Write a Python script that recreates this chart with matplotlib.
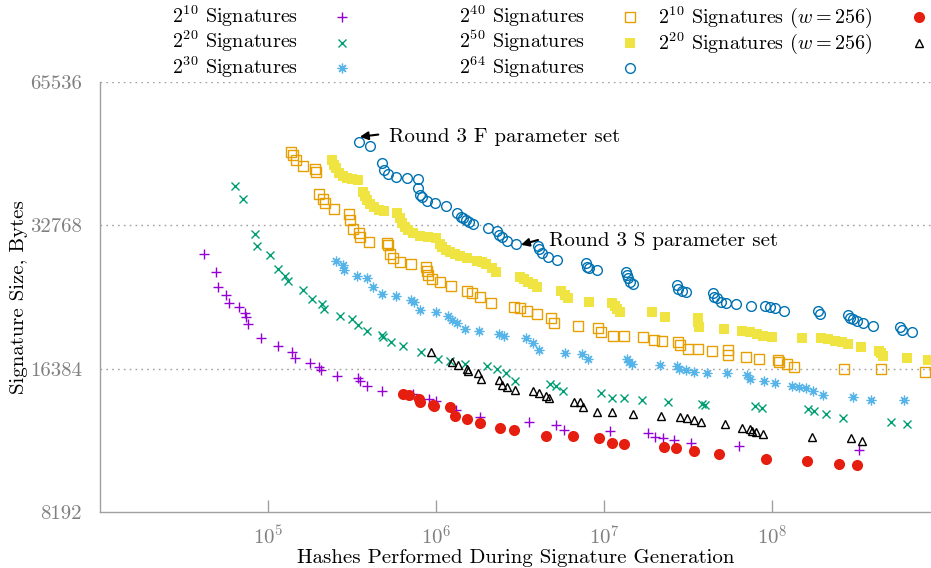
import matplotlib
matplotlib.use('Agg')
import matplotlib.pyplot as plt
from matplotlib.lines import Line2D
from matplotlib.ticker import FixedLocator, FixedFormatter, NullLocator

plt.rcParams['font.family'] = 'serif'
plt.rcParams['font.serif'] = ['cmr10']
plt.rcParams['mathtext.fontset'] = 'cm'
plt.rcParams['axes.unicode_minus'] = False
plt.rcParams['axes.formatter.use_mathtext'] = True

# hashes performed / signature size (bytes)
hashes_2_10 = [4.16e4, 4.90e4, 5.04e4, 5.62e4, 5.86e4, 6.72e4, 7.30e4, 7.40e4, 7.60e4, 9.08e4,
               1.15e5, 1.39e5, 1.45e5, 1.78e5, 2.01e5, 2.07e5, 2.57e5, 3.43e5, 3.53e5, 3.88e5,
               4.77e5, 7.30e5, 9.08e5, 1.00e6, 1.32e6, 1.83e6, 3.58e6, 5.18e6, 5.78e6, 1.09e7,
               1.83e7, 2.01e7, 2.24e7, 2.61e7, 3.30e7, 6.36e7, 3.30e8]
bytes_2_10 = [28500, 26150, 24330, 23400, 22510, 22080, 21450, 21040, 20330, 19010,
              18290, 17760, 17250, 16840, 16520, 16280, 15820, 15660, 15440, 15070,
              14710, 14490, 14150, 14010, 13420, 12970, 12660, 12480, 12180, 12120,
              12000, 11770, 11720, 11600, 11440, 11270, 11060]

hashes_2_20 = [6.36e4, 7.10e4, 8.37e4, 8.60e4, 1.03e5, 1.15e5, 1.26e5, 1.32e5, 1.62e5, 1.83e5,
               2.10e5, 2.15e5, 2.68e5, 3.16e5, 3.43e5, 3.88e5, 4.77e5, 4.84e5, 5.40e5, 6.36e5,
               8.14e5, 1.03e6, 1.21e6, 1.49e6, 2.01e6, 2.31e6, 2.61e6, 2.95e6, 4.77e6, 5.18e6,
               5.70e6, 9.60e6, 1.12e7, 1.32e7, 1.68e7, 2.40e7, 3.83e7, 3.99e7, 7.92e7, 8.71e7,
               1.64e8, 1.78e8, 2.10e8, 2.65e8, 5.11e8, 6.36e8]
bytes_2_20 = [39650, 37230, 31430, 29660, 28400, 26540, 25660, 25040, 23970, 22950,
              22400, 21870, 21140, 20830, 20240, 19660, 19290, 19110, 18650, 18290,
              17760, 17170, 17010, 16760, 16600, 16360, 16050, 15440, 15210, 15070,
              14710, 14570, 14220, 14220, 14080, 13950, 13810, 13750, 13680, 13550,
              13480, 13350, 13160, 12910, 12660, 12540]

hashes_2_30 = [2.54e5, 2.79e5, 2.83e5, 3.39e5, 3.88e5, 4.22e5, 4.77e5, 5.78e5, 7.10e5, 7.40e5,
               8.03e5, 1.00e6, 1.18e6, 1.25e6, 1.33e6, 1.49e6, 1.80e6, 2.37e6, 2.54e6, 3.43e6,
               3.78e6, 4.10e6, 5.86e6, 7.40e6, 8.03e6, 1.37e7, 1.41e7, 1.47e7, 2.15e7, 2.72e7,
               2.79e7, 3.08e7, 3.43e7, 4.10e7, 5.40e7, 7.10e7, 7.40e7, 8.96e7, 1.04e8, 1.32e8,
               1.45e8, 1.59e8, 1.75e8, 2.01e8, 3.03e8, 3.88e8, 6.11e8]
bytes_2_30 = [27590, 27060, 26410, 25660, 25410, 24330, 23510, 23290, 22840, 22620,
              21760, 21560, 21140, 20740, 20430, 19850, 19660, 19380, 19190, 19010,
              18550, 17930, 17680, 17590, 17170, 17170, 16930, 16760, 16680, 16600,
              16360, 16280, 16120, 16050, 16050, 15890, 15590, 15440, 15290, 15070,
              15000, 14920, 14710, 14420, 14290, 14080, 14080]

hashes_2_40 = [1.37e5, 1.41e5, 1.47e5, 1.62e5, 1.90e5, 1.93e5, 2.01e5, 2.12e5, 2.18e5, 2.47e5,
               3.03e5, 3.08e5, 3.21e5, 3.48e5, 3.53e5, 4.00e5, 5.11e5, 5.18e5, 5.32e5, 5.55e5,
               6.11e5, 7.10e5, 8.71e5, 8.84e5, 8.96e5, 9.47e5, 1.06e6, 1.23e6, 1.53e6, 1.64e6,
               1.83e6, 2.12e6, 2.91e6, 3.16e6, 3.48e6, 4.00e6, 4.84e6, 5.04e6, 7.00e6, 9.21e6,
               9.60e6, 1.13e7, 1.32e7, 1.71e7, 1.98e7, 2.21e7, 2.76e7, 2.83e7, 3.16e7, 3.63e7,
               4.39e7, 5.47e7, 5.47e7, 7.00e7, 8.37e7, 1.09e8, 1.10e8, 1.23e8, 1.35e8, 2.68e8,
               4.46e8, 8.14e8]
bytes_2_40 = [46730, 46050, 44960, 43680, 43060, 42430, 38150, 37230, 36510, 35460,
              34630, 33630, 32200, 31590, 30980, 30230, 30100, 29800, 28530, 28000,
              27460, 27190, 26800, 26280, 25780, 25290, 24920, 24440, 23850, 23630,
              23170, 22510, 22080, 21970, 21660, 21350, 20940, 20430, 20140, 19960,
              19560, 19190, 19190, 19110, 18820, 18730, 18650, 18370, 18020, 18020,
              17860, 17930, 17510, 17330, 17170, 17090, 16930, 16760, 16520, 16360,
              16360, 16120]

hashes_2_50 = [2.40e5, 2.47e5, 2.54e5, 2.65e5, 2.79e5, 2.95e5, 3.16e5, 3.43e5, 3.68e5, 3.78e5,
               3.88e5, 4.05e5, 4.27e5, 4.58e5, 4.90e5, 5.86e5, 6.11e5, 6.28e5, 6.54e5, 6.81e5,
               7.30e5, 8.03e5, 8.96e5, 1.00e6, 1.06e6, 1.09e6, 1.15e6, 1.21e6, 1.30e6, 1.39e6,
               1.53e6, 1.75e6, 1.88e6, 1.98e6, 2.15e6, 2.28e6, 3.16e6, 3.34e6, 3.53e6, 3.78e6,
               4.00e6, 5.55e6, 5.86e6, 6.11e6, 8.14e6, 1.12e7, 1.16e7, 1.19e7, 1.25e7, 1.93e7,
               2.31e7, 3.63e7, 3.63e7, 3.68e7, 5.18e7, 6.63e7, 7.40e7, 8.14e7, 8.84e7, 1.00e8,
               1.51e8, 1.96e8, 2.15e8, 2.37e8, 2.61e8, 2.83e8, 3.39e8, 4.33e8, 4.46e8, 4.58e8,
               6.36e8, 8.48e8]
bytes_2_50 = [44960, 43870, 43260, 42220, 41620, 41220, 41030, 40840, 38510, 37770,
              37050, 36350, 35830, 35300, 35130, 34790, 33960, 33150, 32520, 32050,
              31590, 31130, 30980, 30830, 29950, 29510, 29090, 28810, 28530, 28260,
              28000, 27590, 27460, 27190, 26670, 26150, 25530, 25290, 24920, 24680,
              24330, 23850, 23400, 23060, 22620, 22510, 22190, 21870, 21560, 21560,
              21040, 20940, 20540, 20050, 19850, 19660, 19560, 19380, 19190, 19110,
              19010, 19010, 18910, 18730, 18650, 18460, 18190, 17860, 17680, 17430,
              17250, 17090]

hashes_2_64 = [3.48e5, 4.05e5, 4.77e5, 4.90e5, 5.18e5, 5.78e5, 6.72e5, 7.81e5, 7.81e5, 8.03e5,
               8.26e5, 8.84e5, 9.86e5, 1.15e6, 1.33e6, 1.41e6, 1.45e6, 1.51e6, 1.57e6, 1.66e6,
               2.04e6, 2.31e6, 2.37e6, 2.47e6, 2.65e6, 2.99e6, 4.05e6, 4.10e6, 4.27e6, 4.64e6,
               5.25e6, 7.81e6, 7.94e6, 8.14e6, 9.08e6, 1.35e7, 1.37e7, 1.39e7, 1.43e7, 1.49e7,
               2.72e7, 2.76e7, 2.91e7, 3.08e7, 4.46e7, 4.52e7, 4.71e7, 4.97e7, 5.32e7, 6.11e7,
               7.50e7, 9.08e7, 9.73e7, 1.04e8, 1.18e8, 1.88e8, 1.93e8, 2.83e8, 2.91e8, 3.03e8,
               3.21e8, 3.48e8, 4.00e8, 5.78e8, 5.94e8, 6.81e8]
bytes_2_64 = [49050, 48100, 44300, 42830, 42010, 41420, 41220, 41030, 39260, 37950,
              37590, 36860, 36510, 35980, 34790, 34120, 33960, 33630, 33320, 32990,
              32360, 31890, 31280, 30980, 30390, 29950, 29660, 29230, 28670, 28110,
              27730, 27330, 26800, 26670, 26410, 26150, 25780, 25410, 24920, 24680,
              24560, 24090, 23850, 23740, 23630, 23170, 23060, 22620, 22510, 22400,
              22190, 22190, 22080, 21970, 21660, 21660, 21350, 21250, 20940, 20830,
              20630, 20430, 20140, 20050, 19760, 19560]

hashes_w256_2_10 = [6.36e5, 6.90e5, 7.94e5, 8.03e5, 9.60e5, 9.73e5, 1.21e6, 1.30e6, 1.53e6, 1.83e6,
                    2.40e6, 2.91e6, 4.52e6, 6.54e6, 9.33e6, 1.12e7, 1.32e7, 2.28e7, 2.68e7, 3.43e7,
                    4.84e7, 9.21e7, 1.62e8, 2.51e8, 3.21e8]
bytes_w256_2_10 = [14490, 14420, 14150, 13950, 13750, 13680, 13620, 13030, 12850, 12600,
                   12300, 12180, 11830, 11830, 11720, 11440, 11390, 11220, 11170, 11000,
                   10850, 10590, 10480, 10330, 10280]

hashes_w256_2_20 = [9.33e5, 1.25e6, 1.35e6, 1.53e6, 1.55e6, 1.78e6, 1.85e6, 2.37e6, 2.47e6, 2.65e6,
                    2.95e6, 3.78e6, 4.10e6, 4.52e6, 4.71e6, 6.63e6, 7.20e6, 7.50e6, 9.08e6, 1.12e7,
                    1.49e7, 2.18e7, 2.83e7, 3.12e7, 3.43e7, 3.78e7, 5.25e7, 6.63e7, 7.40e7, 7.60e7,
                    8.03e7, 8.84e7, 1.73e8, 2.95e8, 3.43e8]
bytes_w256_2_20 = [17760, 16930, 16680, 16360, 16200, 16050, 15590, 15510, 15140, 15000,
                   14780, 14710, 14570, 14350, 14220, 13950, 13950, 13620, 13290, 13290,
                   13160, 13030, 12970, 12910, 12780, 12660, 12540, 12300, 12240, 12120,
                   12060, 11940, 11770, 11720, 11550]

labels = [r'$2^{10}$ Signatures', r'$2^{20}$ Signatures', r'$2^{30}$ Signatures',
          r'$2^{40}$ Signatures', r'$2^{50}$ Signatures', r'$2^{64}$ Signatures',
          r'$2^{10}$ Signatures ($w = 256$)', r'$2^{20}$ Signatures ($w = 256$)']
y_ticks = [8192, 16384, 32768, 65536]
x_ticks = [1e5, 1e6, 1e7, 1e8]

styles = [
    dict(marker='+', color='#9400D3', ms=7, mew=1.0),
    dict(marker='x', color='#009E73', ms=6, mew=1.0),
    dict(marker=(8, 2, 0), color='#56B4E9', ms=7, mew=0.9),
    dict(marker='s', mfc='none', mec='#E69F00', ms=6.5, mew=1.0),
    dict(marker='s', color='#F0E442', ms=7.5, mew=0),
    dict(marker='o', mfc='none', mec='#0072B2', ms=7, mew=1.0),
    dict(marker='o', color='#E51E10', ms=8, mew=0),
    dict(marker='^', mfc='none', mec='black', ms=6, mew=1.0),
]
series = [(hashes_2_10, bytes_2_10), (hashes_2_20, bytes_2_20), (hashes_2_30, bytes_2_30),
          (hashes_2_40, bytes_2_40), (hashes_2_50, bytes_2_50), (hashes_2_64, bytes_2_64),
          (hashes_w256_2_10, bytes_w256_2_10), (hashes_w256_2_20, bytes_w256_2_20)]

W, H = 931, 568
fig = plt.figure(figsize=(W / 100, H / 100), dpi=100)
ax = fig.add_axes([100 / W, 1 - 512 / H, 831 / W, 430 / H])

grey = '#a0a0a0'
for yv in y_ticks[1:]:
    ax.axhline(yv, color=grey, lw=1.0, dashes=(1.2, 3.0), zorder=0)

for (xs, ys), st in zip(series, styles):
    ax.plot(xs, ys, ls='none', **st)

ax.set_xscale('log')
ax.set_yscale('log', base=2)
ax.set_xlim(1e4, 8.84e8)
ax.set_ylim(8192, 65536)

ax.xaxis.set_major_locator(FixedLocator(x_ticks))
ax.xaxis.set_major_formatter(FixedFormatter([r'$10^{5}$', r'$10^{6}$', r'$10^{7}$', r'$10^{8}$']))
ax.xaxis.set_minor_locator(NullLocator())
ax.yaxis.set_major_locator(FixedLocator(y_ticks))
ax.yaxis.set_major_formatter(FixedFormatter([str(v) for v in y_ticks]))
ax.yaxis.set_minor_locator(NullLocator())

ax.tick_params(axis='x', direction='in', length=9, width=1, color=grey,
               labelcolor='#808080', labelsize=15, pad=9)
ax.tick_params(axis='y', length=0, labelcolor='#808080', labelsize=15, pad=13)
for s in ['top', 'right']:
    ax.spines[s].set_visible(False)
for s in ['left', 'bottom']:
    ax.spines[s].set_color(grey)
    ax.spines[s].set_linewidth(1.0)

ax.set_xlabel('Hashes Performed During Signature Generation', fontsize=15)
ax.set_ylabel('Signature Size, Bytes', fontsize=15)
ax.xaxis.set_label_coords(0.5, -0.086)
ax.yaxis.set_label_coords(-0.087, 0.5)

# annotations
ax.annotate('', xy=(3.39e5, 50190), xytext=(4.71e5, 50910),
            arrowprops=dict(arrowstyle='-|>', color='black', lw=1.5, mutation_scale=12))
ax.text(5.25e5, 49120, 'Round 3 F parameter set', fontsize=15, va='baseline', ha='left')
ax.annotate('', xy=(3.09e6, 29710), xytext=(4.20e6, 30640),
            arrowprops=dict(arrowstyle='-|>', color='black', lw=1.5, mutation_scale=12))
ax.text(4.71e6, 29710, 'Round 3 S parameter set', fontsize=15, va='baseline', ha='left')

# key, gnuplot style: right-justified text then sample, three columns
text_right = [298.5, 585, 872.5]
marker_x = [341.5, 630, 919]
row_y = [17, 42.5, 67.5]
for i, (lab, st) in enumerate(zip(labels, styles)):
    col, row = divmod(i, 3)
    fig.text(text_right[col] / W, 1 - (row_y[row] + 6) / H, lab, fontsize=14.5,
             ha='right', va='baseline')
    fig.add_artist(Line2D([marker_x[col] / W], [1 - row_y[row] / H], ls='none',
                          transform=fig.transFigure, **st))

fig.savefig('out.png', dpi=100)
